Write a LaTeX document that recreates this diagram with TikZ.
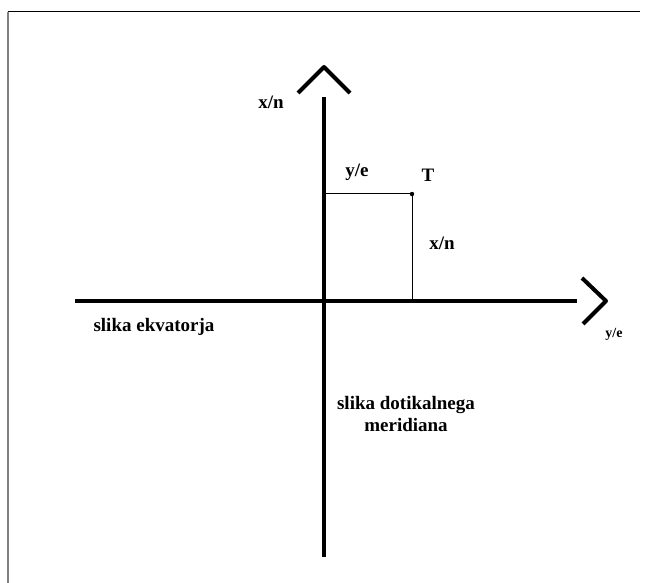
\documentclass[tikz,border=0pt]{standalone}
\usepackage{fontspec}
\setmainfont{Liberation Serif}
\usetikzlibrary{positioning}

\begin{document}
\begin{tikzpicture}[
    x=1pt, y=-1pt,
    every node/.style={font=\bfseries\fontsize{19}{22}\selectfont, inner sep=0pt},
    small/.style={font=\bfseries\fontsize{14}{16}\selectfont},
    axis/.style={line width=4pt},
    chevron/.style={line width=4pt, line join=round},
    guide/.style={line width=1pt}
]
\useasboundingbox (0,0) rectangle (649,583);

% frame
\draw[black, line width=1pt] (8,12) -- (640,12);
\draw[gray, line width=2pt] (8,12) -- (8,583);

% axes
\coordinate (N) at (324,97);
\coordinate (S) at (324,557);
\coordinate (W) at (75,301);
\coordinate (E) at (577,301);
\coordinate (Ntip) at (324,67);
\coordinate (Etip) at (606,301);

\draw[axis] (S) -- (N);
\draw[axis] (W) -- (E);
\draw[chevron] (Ntip) ++(-26,26) -- (Ntip) -- ++(26,26);
\draw[chevron] (Etip) ++(-24,-23) -- (Etip) -- ++(-23,23);

% point T
\coordinate (T) at (412,194);
\coordinate (Ty) at (324,194);
\coordinate (Tx) at (412,301);
\draw[guide] (Ty) -- (T) -- (Tx);
\fill (T) circle (2.2pt);

% labels
\node (xn) at (271,102) {x/n};
\node (ye) at (357,172) {y/e};
\node (Tlab) at (428,175) {T};
\node (xnT) at (442,243) {x/n};
\node[small] (yeE) at (614,334) {y/e};
\node (ekv) at (154,327) {slika ekvatorja};
\node[align=center] (mer) at (406,414) {slika dotikalnega\\meridiana};

\end{tikzpicture}
\end{document}
